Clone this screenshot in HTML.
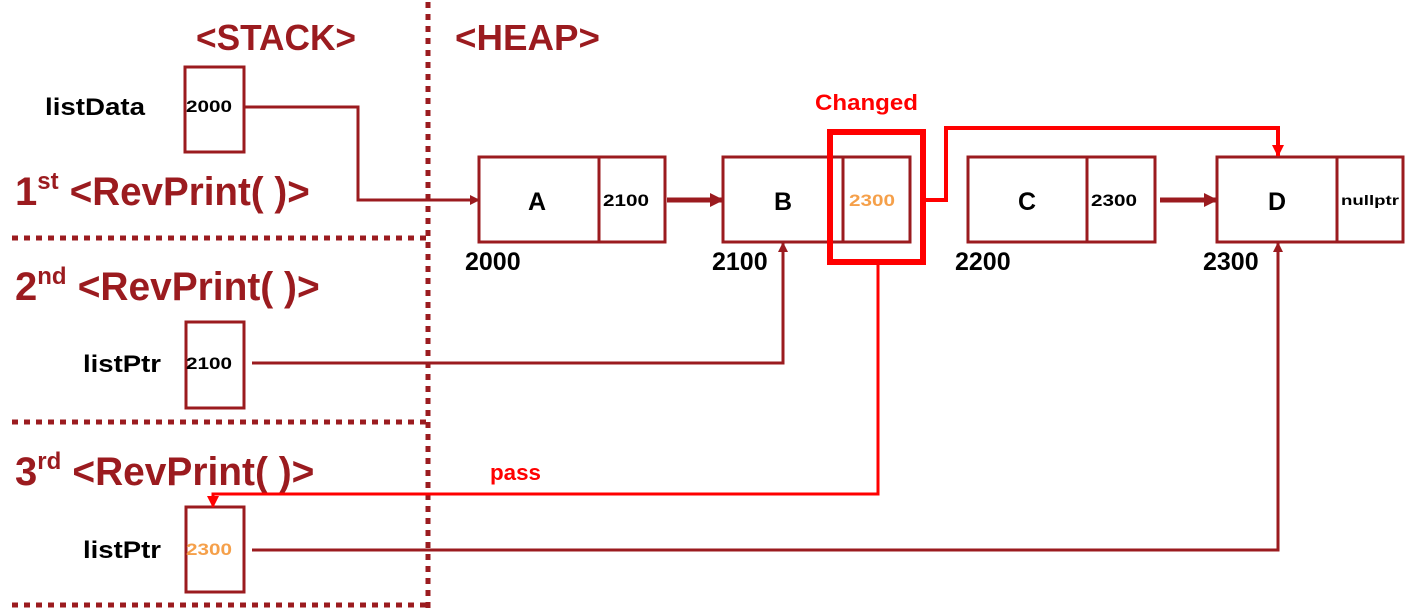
<!DOCTYPE html>
<html><head><style>
body{margin:0;width:1417px;height:610px;background:#fff;overflow:hidden;font-family:"Liberation Sans",sans-serif}
svg{position:absolute;left:0;top:0}
text{font-family:"Liberation Sans",sans-serif;font-weight:bold}
</style></head><body>
<svg width="1417" height="610" viewBox="0 0 1417 610">
<defs>
<marker id="dr" markerWidth="10" markerHeight="10" refX="9" refY="5" orient="auto" markerUnits="userSpaceOnUse"><path d="M0,0 L10,5 L0,10 z" fill="#9b1b1f"/></marker>
<marker id="dr2" markerWidth="14" markerHeight="14" refX="13" refY="7" orient="auto" markerUnits="userSpaceOnUse"><path d="M0,0 L14,7 L0,14 z" fill="#9b1b1f"/></marker>
<marker id="rr" markerWidth="12" markerHeight="12" refX="11" refY="6" orient="auto" markerUnits="userSpaceOnUse"><path d="M0,0 L12,6 L0,12 z" fill="#ff0000"/></marker>
</defs>
<g stroke="#9b1b1f" stroke-width="5" stroke-dasharray="6,6">
<line x1="428" y1="2" x2="428" y2="610"/>
<line x1="12" y1="238" x2="428" y2="238"/>
<line x1="12" y1="422" x2="428" y2="422"/>
<line x1="12" y1="605" x2="428" y2="605"/>
</g>
<g fill="#9b1b1f" font-size="36">
<text x="196" y="50" textLength="160" lengthAdjust="spacingAndGlyphs">&lt;STACK&gt;</text>
<text x="455" y="50" textLength="145" lengthAdjust="spacingAndGlyphs">&lt;HEAP&gt;</text>
</g>
<g fill="#9b1b1f" font-size="40">
<text x="15" y="205">1<tspan font-size="24" dy="-16">st</tspan><tspan dy="16"> </tspan><tspan textLength="240" lengthAdjust="spacingAndGlyphs">&lt;RevPrint( )&gt;</tspan></text>
<text x="15" y="300">2<tspan font-size="24" dy="-16">nd</tspan><tspan dy="16"> </tspan><tspan textLength="242" lengthAdjust="spacingAndGlyphs">&lt;RevPrint( )&gt;</tspan></text>
<text x="15" y="485">3<tspan font-size="24" dy="-16">rd</tspan><tspan dy="16"> </tspan><tspan textLength="242" lengthAdjust="spacingAndGlyphs">&lt;RevPrint( )&gt;</tspan></text>
</g>
<g fill="#000" font-size="24">
<text x="45" y="115" textLength="100" lengthAdjust="spacingAndGlyphs">listData</text>
<text x="83" y="372" textLength="78" lengthAdjust="spacingAndGlyphs">listPtr</text>
<text x="83" y="558" textLength="78" lengthAdjust="spacingAndGlyphs">listPtr</text>
</g>
<g fill="none" stroke="#9b1b1f" stroke-width="3">
<rect x="185" y="67" width="59" height="85"/>
<rect x="186" y="322" width="58" height="86"/>
<rect x="186" y="507" width="58" height="85"/>
<rect x="479" y="157" width="186" height="85"/><line x1="599" y1="157" x2="599" y2="242"/>
<rect x="723" y="157" width="187" height="85"/><line x1="843" y1="157" x2="843" y2="242"/>
<rect x="968" y="157" width="187" height="85"/><line x1="1087" y1="157" x2="1087" y2="242"/>
<rect x="1217" y="157" width="186" height="85"/><line x1="1337" y1="157" x2="1337" y2="242"/>
</g>
<g font-size="17" fill="#000">
<text x="186" y="112" textLength="46" lengthAdjust="spacingAndGlyphs">2000</text>
<text x="186" y="369" textLength="46" lengthAdjust="spacingAndGlyphs">2100</text>
<text x="603" y="206" textLength="46" lengthAdjust="spacingAndGlyphs">2100</text>
<text x="1091" y="206" textLength="46" lengthAdjust="spacingAndGlyphs">2300</text>
<text x="1341" y="205" font-size="14" textLength="58" lengthAdjust="spacingAndGlyphs">nullptr</text>
</g>
<g font-size="17" fill="#f5a04a">
<text x="186" y="555" textLength="46" lengthAdjust="spacingAndGlyphs">2300</text>
<text x="849" y="206" textLength="46" lengthAdjust="spacingAndGlyphs">2300</text>
</g>
<g font-size="25" fill="#000">
<text x="528" y="210">A</text><text x="774" y="210">B</text><text x="1018" y="210">C</text><text x="1268" y="210">D</text>
<text x="465" y="270">2000</text><text x="712" y="270">2100</text><text x="955" y="270">2200</text><text x="1203" y="270">2300</text>
</g>
<g fill="none" stroke="#9b1b1f" stroke-width="3">
<polyline points="245,107 358,107 358,200 479,200" marker-end="url(#dr)"/>
<polyline points="252,363 783,363 783,243" marker-end="url(#dr)"/>
<polyline points="252,550 1278,550 1278,243" marker-end="url(#dr)"/>
<line x1="667" y1="200" x2="723" y2="200" stroke-width="5" marker-end="url(#dr2)"/>
<line x1="1160" y1="200" x2="1217" y2="200" stroke-width="5" marker-end="url(#dr2)"/>
</g>
<g fill="none" stroke="#ff0000">
<rect x="830" y="132" width="93" height="130" stroke-width="6"/>
<polyline points="924,200 946,200 946,128 1278,128 1278,156" stroke-width="4" marker-end="url(#rr)"/>
<polyline points="878,263 878,494 213,494 213,507" stroke-width="3" marker-end="url(#rr)"/>
</g>
<g fill="#ff0000" font-size="22">
<text x="815" y="110" textLength="103" lengthAdjust="spacingAndGlyphs">Changed</text>
<text x="490" y="480" textLength="51" lengthAdjust="spacingAndGlyphs">pass</text>
</g>
</svg>
</body></html>
